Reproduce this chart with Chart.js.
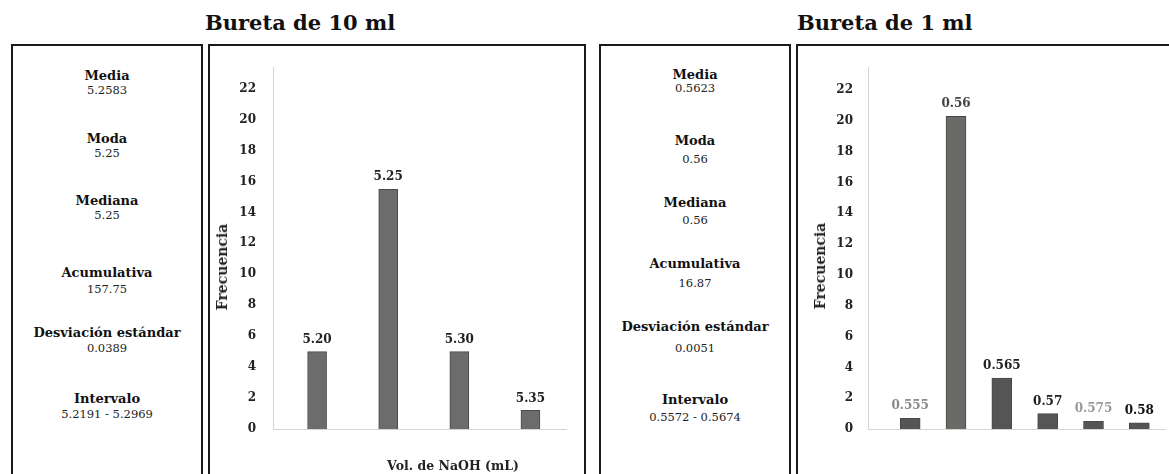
<!DOCTYPE html>
<html>
<head>
<meta charset="utf-8">
<script src="https://cdn.jsdelivr.net/npm/chart.js@4"></script>
<style>
  body { margin:0; width:1169px; height:474px; background:#fff; position:relative; overflow:hidden; font-family:"DejaVu Serif", serif; color:#111; }
  .titulo { position:absolute; top:10px; font-weight:bold; font-size:21px; white-space:nowrap; }
  .caja { position:absolute; top:44px; height:460px; border:2px solid #1a1a1a; box-sizing:border-box; }
  .txt { position:absolute; width:190px; text-align:center; transform:translateY(-50%); white-space:nowrap; line-height:14px; }
  .lab { font-weight:bold; font-size:13px; }
  .val { font-size:11.5px; color:#222; }
  .eje { position:absolute; font-weight:bold; font-size:14px; white-space:nowrap; color:#222; }
  canvas { position:absolute; }
</style>
</head>
<body>
<div class="titulo" style="left:205px">Bureta de 10 ml</div>
<div class="titulo" style="left:797px">Bureta de 1 ml</div>

<div class="caja" style="left:11px;width:192px"></div>
<div class="caja" style="left:208px;width:378px"></div>
<div class="caja" style="left:599px;width:192px"></div>
<div class="caja" style="left:796px;width:400px"></div>

<canvas id="c10" width="372" height="428" style="left:210px;top:46px"></canvas>
<canvas id="c1" width="370" height="426" style="left:799px;top:48px"></canvas>

<div class="eje" style="left:222px;top:267px;transform:translate(-50%,-50%) rotate(-90deg)">Frecuencia</div>
<div class="eje" style="left:820px;top:266px;transform:translate(-50%,-50%) rotate(-90deg)">Frecuencia</div>
<div class="eje" style="left:453px;top:465px;transform:translate(-50%,-50%);font-size:12.5px">Vol. de NaOH (mL)</div>

<script>
// datos
const statLabels = ["Media", "Moda", "Mediana", "Acumulativa", "Desviación estándar", "Intervalo"];
const stats10 = ["5.2583", "5.25", "5.25", "157.75", "0.0389", "5.2191 - 5.2969"];
const stats1 = ["0.5623", "0.56", "0.56", "16.87", "0.0051", "0.5572 - 0.5674"];

const vol10 = [5.20, 5.25, 5.30, 5.35];
const vol10Labels = ["5.20", "5.25", "5.30", "5.35"];
const freq10 = [5, 15.5, 5, 1.2];

const vol1 = [0.555, 0.56, 0.565, 0.57, 0.575, 0.58];
const vol1Labels = ["0.555", "0.56", "0.565", "0.57", "0.575", "0.58"];
const freq1 = [0.7, 20.3, 3.3, 1.0, 0.5, 0.4];

// paneles de estadisticas
function panel(left, labY, valY, values) {
    for (let i = 0; i < statLabels.length; i++) {
        const a = document.createElement("div");
        a.className = "txt lab";
        a.style.left = left + "px";
        a.style.top = labY[i] + "px";
        a.textContent = statLabels[i];
        document.body.appendChild(a);

        const b = document.createElement("div");
        b.className = "txt val";
        b.style.left = left + "px";
        b.style.top = valY[i] + "px";
        b.textContent = values[i];
        document.body.appendChild(b);
    }
}
panel(12, [76, 139, 201, 273, 333, 399], [90, 153, 215, 289, 348, 414], stats10);
panel(600, [75, 141, 203, 264, 327, 400], [88, 159, 220, 283, 348, 417], stats1);

const serif = '"DejaVu Serif", serif';

function etiquetas(texts, colors) {
    return {
        id: "etiquetas",
        afterDatasetsDraw(chart) {
            const ctx = chart.ctx;
            const meta = chart.getDatasetMeta(0);
            ctx.save();
            ctx.font = "bold 12px " + serif;
            ctx.textAlign = "center";
            ctx.textBaseline = "bottom";
            meta.data.forEach((bar, i) => {
                ctx.fillStyle = colors[i];
                ctx.fillText(texts[i], bar.x, bar.y - 6);
            });
            ctx.restore();
        }
    };
}

function histograma(id, xs, ys, texts, colors, barColors, cfg) {
    new Chart(document.getElementById(id), {
        type: "bar",
        data: {
            datasets: [{
                data: xs.map((x, i) => ({ x: x, y: ys[i] })),
                backgroundColor: barColors,
                borderColor: "#4a4a4a",
                borderWidth: 1,
                barThickness: cfg.bar
            }]
        },
        options: {
            responsive: false,
            animation: false,
            devicePixelRatio: 1,
            layout: { padding: { top: cfg.top, right: cfg.right, left: 0, bottom: 0 } },
            plugins: { legend: { display: false }, tooltip: { enabled: false } },
            scales: {
                x: {
                    type: "linear",
                    offset: false,
                    min: cfg.xmin,
                    max: cfg.xmax,
                    grid: { display: false, offset: false },
                    border: { display: true, color: "#d4d4d4" },
                    ticks: { display: false },
                    afterFit: s => { s.height = 45; }
                },
                y: {
                    min: 0,
                    max: cfg.ymax,
                    grid: { display: false },
                    border: { display: true, color: "#d4d4d4" },
                    ticks: {
                        stepSize: 2,
                        includeBounds: false,
                        padding: cfg.pad,
                        color: "#222",
                        font: { family: serif, size: 12, weight: "bold" }
                    },
                    afterFit: s => { s.width = cfg.yw; }
                }
            }
        },
        plugins: [etiquetas(texts, colors)]
    });
}

histograma("c10", vol10, freq10, vol10Labels,
    ["#222", "#222", "#222", "#222"],
    "#6c6c6c",
    { top: 21, right: 16, yw: 63, pad: 9, ymax: 23.4, xmin: 5.169, xmax: 5.375, bar: 19 });

histograma("c1", vol1, freq1, vol1Labels,
    ["#8a8a8a", "#444", "#222", "#222", "#9a9a9a", "#111"],
    ["#555", "#6a6a66", "#555", "#555", "#555", "#555"],
    { top: 19, right: 4, yw: 69, pad: 7, ymax: 23.5, xmin: 0.5504, xmax: 0.5828, bar: 20 });
</script>
</body>
</html>
